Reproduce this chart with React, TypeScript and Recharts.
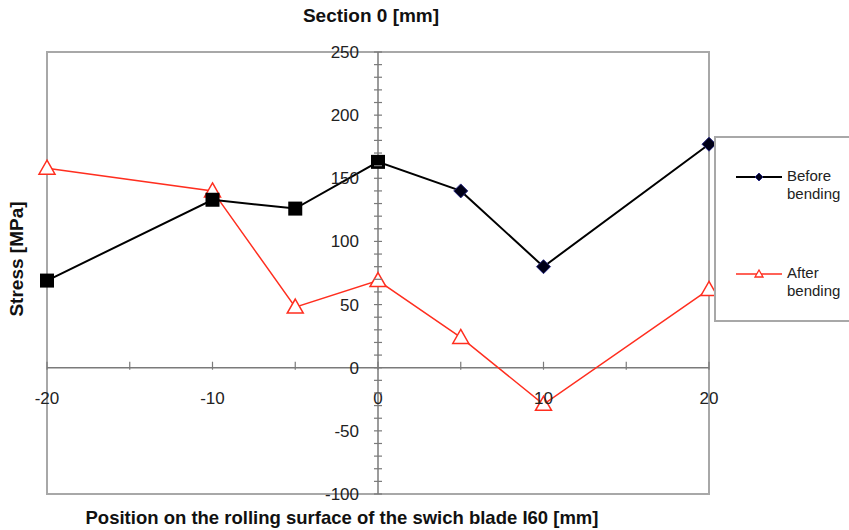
import React from 'react';
import { LineChart, Line, XAxis, YAxis, ReferenceLine, ReferenceArea, Legend } from 'recharts';

// position on the rolling surface [mm]
const positions = [-20, -10, -5, 0, 5, 10, 20];
const beforeBending = [69, 133, 126, 163, 140, 80, 177];
const afterBending = [158, 140, 48, 69, 24, -29, 62];

const xTicks = [-20, -15, -10, -5, 0, 5, 10, 15, 20];
const xLabels = [-20, -10, 0, 10, 20];
const yTicks = [-100, -90, -80, -70, -60, -50, -40, -30, -20, -10, 0, 10, 20, 30, 40, 50, 60, 70, 80, 90, 100,
  110, 120, 130, 140, 150, 160, 170, 180, 190, 200, 210, 220, 230, 240, 250];
const yLabels = [-100, -50, 0, 50, 100, 150, 200, 250];

const data = positions.map((p, i) => ({ pos: p, before: beforeBending[i], after: afterBending[i] }));

const W = 849;
const H = 530;
const Y_AXIS_W = 47;
const X_AXIS_H = 36;
const M = { top: 52, right: 140, left: 0, bottom: 0 };
const plotLeft = M.left + Y_AXIS_W;
const plotW = W - plotLeft - M.right;
const plotH = H - M.top - M.bottom - X_AXIS_H;
const X_MIN = -20, X_MAX = 20, Y_MIN = -100, Y_MAX = 250;
// axes cross at zero, not at the plot edges
const zeroX = plotLeft + (plotW * (0 - X_MIN)) / (X_MAX - X_MIN);
const zeroY = M.top + (plotH * (Y_MAX - 0)) / (Y_MAX - Y_MIN);

const RED = '#ff2e1f';
const AXIS = '#7a7a7a';
const FONT = '"Liberation Sans", Arial, sans-serif';

const YTick = (props: any) => {
  const { y, payload } = props;
  const v = payload.value;
  return (
    <g>
      <line x1={zeroX - 4} x2={zeroX + 4} y1={y} y2={y} stroke={AXIS} strokeWidth={1.2} />
      {yLabels.includes(v) && (
        <text x={zeroX - 19} y={y} dy={6} textAnchor="end" fontSize={17} fontFamily={FONT} fill="#222">
          {v}
        </text>
      )}
    </g>
  );
};

const XTick = (props: any) => {
  const { x, payload } = props;
  const v = payload.value;
  return (
    <g>
      <line x1={x} x2={x} y1={zeroY - 6} y2={zeroY + 2} stroke={AXIS} strokeWidth={1.2} />
      {xLabels.includes(v) && (
        <text x={x} y={zeroY + 30} dy={6} textAnchor="middle" fontSize={17} fontFamily={FONT} fill="#222">
          {v}
        </text>
      )}
    </g>
  );
};

const BeforeDot = (props: any) => {
  const { cx, cy, index } = props;
  if (index < 4) {
    return <rect key={`b${index}`} x={cx - 7} y={cy - 7} width={14} height={14} fill="#000" />;
  }
  return (
    <path
      key={`b${index}`}
      d={`M${cx},${cy - 7} L${cx + 7},${cy} L${cx},${cy + 7} L${cx - 7},${cy} Z`}
      fill="#000018"
      stroke="#2a2a80"
      strokeWidth={1}
    />
  );
};

const AfterDot = (props: any) => {
  const { cx, cy, index } = props;
  return (
    <path
      key={`a${index}`}
      d={`M${cx},${cy - 8} L${cx + 8},${cy + 6} L${cx - 8},${cy + 6} Z`}
      fill="#fff"
      stroke={RED}
      strokeWidth={1.5}
    />
  );
};

const LegendBox = () => (
  <div
    style={{
      position: 'relative',
      width: 133,
      height: 182,
      borderTop: '2px solid #a8a8a8',
      borderLeft: '2px solid #a8a8a8',
      borderBottom: '2px solid #a8a8a8',
      background: '#fff',
      fontFamily: FONT,
      fontSize: 15,
      lineHeight: '18px',
      color: '#222',
    }}
  >
    <svg style={{ position: 'absolute', left: 20, top: 29 }} width={48} height={20}>
      <line x1={0} x2={46} y1={10} y2={10} stroke="#000" strokeWidth={2} />
      <path d="M23,6 L27,10 L23,14 L19,10 Z" fill="#000018" stroke="#2a2a80" />
    </svg>
    <div style={{ position: 'absolute', left: 71, top: 29 }}>Before<br />bending</div>
    <svg style={{ position: 'absolute', left: 20, top: 126 }} width={48} height={20}>
      <line x1={0} x2={46} y1={10} y2={10} stroke={RED} strokeWidth={1.5} />
      <path d="M23,6 L27,13 L19,13 Z" fill="#fff" stroke={RED} strokeWidth={1.3} />
    </svg>
    <div style={{ position: 'absolute', left: 71, top: 126 }}>After<br />bending</div>
  </div>
);

export default function App() {
  return (
    <div style={{ position: 'absolute', left: 0, top: 0, width: W, height: H, background: '#fff', overflow: 'hidden' }}>
      <LineChart width={W} height={H} data={data} margin={M}>
        <XAxis
          dataKey="pos"
          type="number"
          domain={[X_MIN, X_MAX]}
          ticks={xTicks}
          interval={0}
          height={X_AXIS_H}
          axisLine={false}
          tickLine={false}
          tick={<XTick />}
        />
        <YAxis
          type="number"
          domain={[Y_MIN, Y_MAX]}
          ticks={yTicks}
          interval={0}
          width={Y_AXIS_W}
          axisLine={false}
          tickLine={false}
          tick={<YTick />}
        />
        <ReferenceArea x1={X_MIN} x2={X_MAX} y1={Y_MIN} y2={Y_MAX} fill="none" stroke="#a8a8a8" strokeWidth={2} />
        <ReferenceLine y={0} stroke={AXIS} strokeWidth={1.5} />
        <ReferenceLine x={0} stroke={AXIS} strokeWidth={1.5} />
        <Legend
          layout="vertical"
          align="center"
          verticalAlign="middle"
          wrapperStyle={{ left: 714, top: 136, width: 135 }}
          content={<LegendBox />}
        />
        <Line
          dataKey="after"
          name="After bending"
          stroke={RED}
          strokeWidth={1.5}
          dot={<AfterDot />}
          activeDot={false}
          isAnimationActive={false}
        />
        <Line
          dataKey="before"
          name="Before bending"
          stroke="#000"
          strokeWidth={2}
          dot={<BeforeDot />}
          activeDot={false}
          isAnimationActive={false}
        />
      </LineChart>
      <div style={{ position: 'absolute', left: 0, top: 5, width: 742, textAlign: 'center', fontFamily: FONT, fontWeight: 'bold', fontSize: 19, color: '#111' }}>
        Section 0 [mm]
      </div>
      <div style={{ position: 'absolute', left: 0, top: 507, width: 684, textAlign: 'center', fontFamily: FONT, fontWeight: 'bold', fontSize: 18.5, color: '#111' }}>
        Position on the rolling surface of the swich blade I60 [mm]
      </div>
      <div
        style={{
          position: 'absolute',
          left: 17,
          top: 259,
          transform: 'translate(-50%, -50%) rotate(-90deg)',
          whiteSpace: 'nowrap',
          fontFamily: FONT,
          fontWeight: 'bold',
          fontSize: 19,
          color: '#111',
        }}
      >
        Stress [MPa]
      </div>
    </div>
  );
}
